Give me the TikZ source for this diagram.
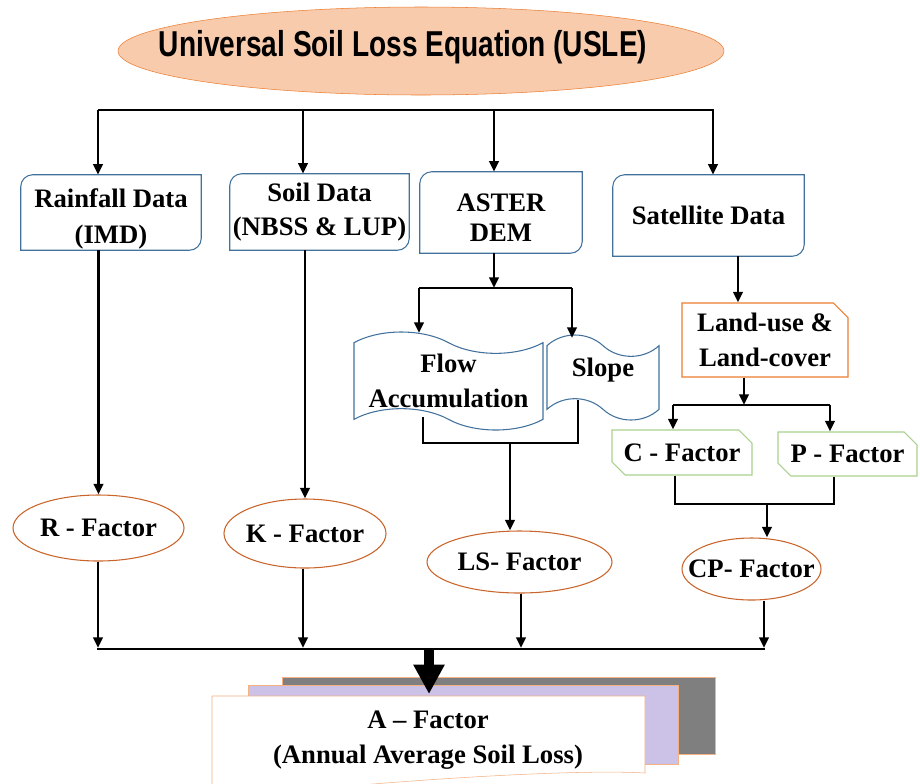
\documentclass[tikz,border=0pt]{standalone}
\usepackage{fontspec}
\setmainfont{Liberation Serif}
\newfontfamily\titlefont{Liberation Sans}
\usetikzlibrary{shapes.geometric, shapes.misc, shapes.symbols, arrows.meta}

\definecolor{boxblue}{HTML}{41719C}
\definecolor{factorline}{HTML}{C9652A}
\definecolor{usleorange}{HTML}{ED7D31}
\definecolor{uslefill}{HTML}{F8CBAD}
\definecolor{lcgreen}{HTML}{A9D18E}
\definecolor{stackgray}{HTML}{7F7F7F}
\definecolor{stacklilac}{HTML}{CCC1E6}
\definecolor{stackedge}{HTML}{F4B183}

\tikzset{
  lbl/.style={font=\fontsize{20}{26}\selectfont\bfseries, align=center},
  databox/.style={lbl, inner sep=0pt},
  factor/.style={lbl, ellipse, draw=factorline, thick, inner sep=0pt},
  tapebox/.style={lbl, tape, draw=boxblue, thick, inner sep=0pt,
    tape bend top=out and in, tape bend bottom=out and in, tape bend height=16pt},
  lcbox/.style={lbl, chamfered rectangle, chamfered rectangle corners=north east,
    chamfered rectangle xsep=8pt, draw=usleorange, thick, inner sep=0pt},
  cpbox/.style={lbl, chamfered rectangle, chamfered rectangle corners={north east, south west},
    chamfered rectangle xsep=7pt, draw=lcgreen, thick, inner sep=0pt},
  link/.style={line width=2pt},
  arr/.style={link, -{Triangle[length=8pt,width=7pt]}},
}

% frame with two rounded corners (top left, bottom right)
\newcommand\dataframe[1]{%
  \draw[boxblue, thick] (#1.south west) -- ([yshift=-9pt]#1.north west)
    arc[start angle=180, end angle=90, radius=9pt] -- (#1.north east)
    -- ([yshift=9pt]#1.south east) arc[start angle=0, end angle=-90, radius=9pt] -- cycle;}

\begin{document}
\begin{tikzpicture}[x=0.75pt, y=-0.75pt]
  \useasboundingbox (0,0) rectangle (920,783);

  % Title
  \node[ellipse, draw=usleorange, fill=uslefill, minimum width=454.5pt, minimum height=66pt, inner sep=0pt]
    (usle) at (421,51) {};
  \node (usletext) at (403,47) {\titlefont\fontsize{27}{30}\selectfont\bfseries\scalebox{0.78}[1]{Universal Soil Loss Equation (USLE)}};

  % Data sources
  \node[databox, minimum width=135pt, minimum height=56.25pt] (rain) at (111,212.5) {\rule{0pt}{24pt}Rainfall Data\\[1pt](IMD)};
  \node[databox, minimum width=134.25pt, minimum height=57pt] (soil) at (319.5,212) {Soil Data\\(NBSS \& LUP)};
  \node[databox, minimum width=121.5pt, minimum height=60.75pt] (aster) at (501,212.5) {\rule{0pt}{21pt}ASTER\\[-3pt]DEM};
  \node[databox, minimum width=143.25pt, minimum height=60.75pt] (sat) at (708.5,215.5) {Satellite Data};
  \dataframe{rain}
  \dataframe{soil}
  \dataframe{aster}
  \dataframe{sat}

  % Intermediate layers
  \node[tapebox, minimum width=141.75pt, minimum height=73.5pt] (flow) at (448.5,381) {Flow\\Accumulation};
  \node[tapebox, minimum width=84pt, minimum height=63.75pt] (slope) at (603,377.5) {Slope\rule[-16pt]{0pt}{0pt}};
  \node[lcbox, minimum width=124.5pt, minimum height=55.5pt] (landuse) at (765,340) {Land-use \&\\Land-cover};
  \node[cpbox, minimum width=105pt, minimum height=33.75pt] (cfac) at (682,452.5) {C - Factor};
  \node[cpbox, minimum width=104.25pt, minimum height=33pt] (pfac) at (847.5,454) {P - Factor};

  % Factors
  \node[factor, minimum width=128.25pt, minimum height=49.5pt] (R) at (98.5,528) {\makebox[0pt]{R - Factor}};
  \node[factor, minimum width=121.5pt, minimum height=51.75pt] (K) at (305,533.5) {\makebox[0pt]{K - Factor}};
  \node[factor, minimum width=138.75pt, minimum height=46.5pt] (LS) at (519.5,562) {\makebox[0pt]{LS- Factor}};
  \node[factor, minimum width=104.25pt, minimum height=46.5pt] (CP) at (751.5,569) {\makebox[0pt]{CP- Factor}};

  % Top distribution
  \draw[link] (98,110) -- (714,110);
  \foreach \t/\n in {98/rain, 303/soil, 494/aster, 713/sat}
    \draw[arr] (\t,110) -- (\t,110 |- \n.north);

  % Rainfall and soil branches
  \draw[arr] (R.north |- rain.south) -- (R.north);
  \draw[arr] (K.north |- soil.south) -- (K.north);

  % DEM branch
  \coordinate (demsplit) at (494,288);
  \draw[arr] (aster.south -| demsplit) -- (demsplit);
  \draw[link] (419,288) -- (572,288);
  \draw[arr] (419,288) -- (419,333);
  \draw[arr] (572,288) -- (572,338);
  \draw[link] (423,417) -- (423,443) -- (578,443) -- (578,400);
  \draw[arr] (510,443) -- (510,443 |- LS.north);

  % Satellite branch
  \draw[arr] (738,0 |- sat.south) -- (738,0 |- landuse.north);
  \draw[arr] (744,0 |- landuse.south) -- (744,405);
  \draw[link] (673,405) -- (830,405);
  \draw[arr] (673,405) -- (673,0 |- cfac.north);
  \draw[arr] (830,405) -- (830,0 |- pfac.north);
  \draw[link] (675,0 |- cfac.south) -- (675,504) -- (834,504) -- (834,0 |- pfac.south);
  \draw[arr] (767,504) -- (767,0 |- CP.north);

  % Collect factors
  \foreach \t/\n in {98/R, 303/K, 521/LS, 764/CP}
    \draw[arr] (\t,0 |- \n.south) -- (\t,648);
  \draw[link] (97,649) -- (765,649);

  % Result stack
  \filldraw[draw=stackedge, fill=stackgray] (282,677) rectangle (715,754);
  \filldraw[draw=stackedge, fill=stacklilac] (248,685) rectangle (678,764);
  \filldraw[draw=stackedge, fill=white] (212,800) -- (212,696) -- (645,696) -- (645,773)
    .. controls (560,768) and (330,785) .. (212,800);
  \draw[line width=7.5pt, -{Triangle[length=22pt,width=22pt]}] (429,649) -- (429,694);
  \node[lbl] (afac) at (428,740) {A – Factor\\(Annual Average Soil Loss)};
\end{tikzpicture}
\end{document}
